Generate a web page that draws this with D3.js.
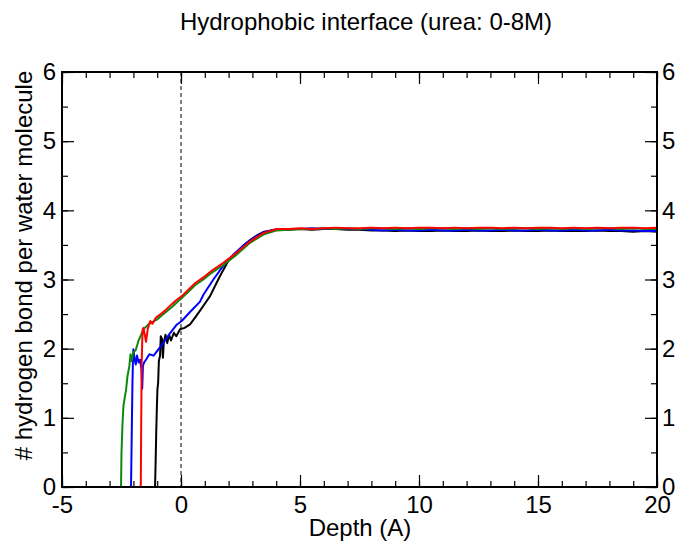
<!DOCTYPE html>
<html><head><meta charset="utf-8">
<script src="https://cdn.jsdelivr.net/npm/d3@7"></script>
<style>body{margin:0;background:#fff}svg{display:block}text{font-family:"Liberation Sans",Arial,sans-serif}</style>
</head><body>
<svg id="c" width="678" height="546"></svg>
<script>
// ---- data ----
const xTicks = [-5, 0, 5, 10, 15, 20];
const yTicks = [0, 1, 2, 3, 4, 5, 6];
const plateauDepth = [4.5,5,5.5,6,6.5,7,7.5,8,8.5,9,9.5,10,10.5,11,11.5,12,12.5,13,13.5,14,14.5,15,15.5,16,16.5,17,17.5,18,18.5,19,19.5,20];

const blackRise = [[-1.09,0],[-1.07,0.3],[-1.04,0.8],[-1.01,1.2],[-0.99,1.41],[-0.96,1.51],[-0.93,1.82],[-0.88,1.9],[-0.85,2.18],[-0.8,2.14],[-0.76,1.87],[-0.72,2.1],[-0.65,2.2],[-0.58,2.08],[-0.5,2.2],[-0.42,2.12],[-0.3,2.23],[-0.2,2.18],[-0.04,2.28],[0.15,2.3],[0.38,2.35],[0.59,2.45],[0.8,2.55],[1.0,2.65],[1.22,2.76],[1.45,2.92],[1.64,3.05],[1.99,3.27],[2.34,3.39],[2.62,3.49],[2.9,3.57],[3.2,3.64],[3.5,3.69],[3.8,3.71],[4.1,3.72]];
const blackPlateau = [3.72,3.73,3.72,3.73,3.73,3.72,3.72,3.71,3.71,3.70,3.71,3.70,3.70,3.71,3.70,3.70,3.71,3.70,3.70,3.71,3.70,3.70,3.71,3.70,3.70,3.70,3.71,3.70,3.70,3.69,3.70,3.69];

const blueRise = [[-2.1,0],[-2.08,0.5],[-2.06,1.0],[-2.04,1.5],[-2.02,1.8],[-2.0,1.99],[-1.95,1.85],[-1.9,1.77],[-1.85,1.9],[-1.78,1.8],[-1.72,1.84],[-1.66,1.7],[-1.63,1.42],[-1.6,1.75],[-1.55,1.8],[-1.45,1.85],[-1.33,1.92],[-1.15,1.9],[-0.95,1.99],[-0.73,2.09],[-0.45,2.23],[-0.17,2.35],[0.03,2.4],[0.38,2.53],[0.8,2.68],[0.94,2.78],[1.36,3.0],[1.78,3.2],[2.2,3.36],[2.62,3.49],[3.04,3.6],[3.46,3.68],[3.9,3.72],[4.3,3.73]];
const bluePlateau = [3.73,3.73,3.74,3.73,3.74,3.73,3.73,3.72,3.71,3.72,3.71,3.71,3.72,3.71,3.71,3.72,3.71,3.71,3.72,3.71,3.71,3.72,3.71,3.71,3.72,3.71,3.71,3.72,3.71,3.71,3.70,3.70];

const greenRise = [[-2.52,0],[-2.5,0.5],[-2.46,0.9],[-2.42,1.17],[-2.36,1.3],[-2.31,1.4],[-2.25,1.6],[-2.17,1.75],[-2.12,1.92],[-2.08,1.82],[-2.0,1.95],[-1.9,1.98],[-1.79,2.11],[-1.58,2.28],[-1.37,2.35],[-1.02,2.42],[-0.67,2.52],[-0.32,2.62],[-0.04,2.71],[0.3,2.82],[0.6,2.92],[0.94,3.0],[1.3,3.1],[1.78,3.21],[2.34,3.36],[2.9,3.53],[3.46,3.65],[4.02,3.71]];
const greenPlateau = [3.72,3.73,3.73,3.74,3.73,3.74,3.73,3.74,3.74,3.73,3.74,3.73,3.74,3.74,3.73,3.74,3.73,3.74,3.73,3.74,3.74,3.73,3.74,3.73,3.74,3.73,3.74,3.74,3.73,3.74,3.73,3.73];

const redRise = [[-1.69,0],[-1.68,0.5],[-1.67,1.0],[-1.66,1.41],[-1.65,1.8],[-1.63,2.1],[-1.61,2.28],[-1.58,2.3],[-1.52,2.2],[-1.47,2.1],[-1.4,2.28],[-1.29,2.4],[-1.2,2.36],[-1.05,2.45],[-0.85,2.5],[-0.67,2.55],[-0.4,2.64],[-0.2,2.7],[0.03,2.76],[0.3,2.85],[0.6,2.95],[0.94,3.03],[1.3,3.13],[1.78,3.24],[2.34,3.39],[2.9,3.55],[3.46,3.67],[4.02,3.73]];
const redPlateau = [3.73,3.74,3.73,3.74,3.75,3.74,3.74,3.75,3.74,3.75,3.74,3.75,3.75,3.74,3.75,3.74,3.75,3.75,3.74,3.75,3.74,3.75,3.75,3.74,3.75,3.74,3.75,3.74,3.75,3.75,3.74,3.75];

const seriesNames = ["black", "blue", "green", "red"];
const seriesColors = ["#000000", "#0000ff", "#0b8a0b", "#ff0000"];
const seriesRise = [blackRise, blueRise, greenRise, redRise];
const seriesPlateau = [blackPlateau, bluePlateau, greenPlateau, redPlateau];

const titleText = "Hydrophobic interface (urea: 0-8M)";
const xLabel = "Depth (A)";
const yLabel = "# hydrogen bond per water molecule";

// ---- layout ----
const L = 62, R = 657, T = 72, B = 487;
const svg = d3.select("#c");
const x = d3.scaleLinear().domain([-5, 20]).range([L, R]);
const y = d3.scaleLinear().domain([0, 6]).range([B, T]);

const fs = 24;
const ff = '"Liberation Sans", Arial, sans-serif';
const fmt = d => String(d);

svg.append("clipPath").attr("id","clip").append("rect")
  .attr("x", L).attr("y", T).attr("width", R-L).attr("height", B-T);

// dashed zero line
svg.append("line").attr("x1", x(0)).attr("x2", x(0)).attr("y1", T).attr("y2", B)
  .attr("stroke", "#000").attr("stroke-width", 1).attr("stroke-dasharray", "4,3");

// series
const line = d3.line().x(d => x(d[0])).y(d => y(d[1]));
const g = svg.append("g").attr("clip-path", "url(#clip)");
seriesNames.forEach((n, i) => {
  const pts = seriesRise[i].concat(plateauDepth.map((d, j) => [d, seriesPlateau[i][j]]));
  g.append("path").datum(pts).attr("d", line)
    .attr("fill", "none").attr("stroke", seriesColors[i]).attr("stroke-width", 2)
    .attr("stroke-linejoin", "round");
});

// axes (inward ticks)
const minorX = d3.range(-5, 20.01, 1);
const minorY = d3.range(0, 6.01, 0.5);
svg.append("g").attr("transform", `translate(0,${B})`)
  .call(d3.axisBottom(x).tickValues(minorX).tickSize(-6).tickFormat(""));
svg.append("g").attr("transform", `translate(0,${B})`)
  .call(d3.axisBottom(x).tickValues(xTicks).tickSize(-12).tickPadding(9).tickFormat(fmt));
svg.append("g").attr("transform", `translate(0,${T})`)
  .call(d3.axisTop(x).tickValues(minorX).tickSize(-6).tickFormat(""));
svg.append("g").attr("transform", `translate(0,${T})`)
  .call(d3.axisTop(x).tickValues(xTicks).tickSize(-12).tickFormat(""));
svg.append("g").attr("transform", `translate(${L},0)`)
  .call(d3.axisLeft(y).tickValues(minorY).tickSize(-6).tickFormat(""));
svg.append("g").attr("transform", `translate(${L},0)`)
  .call(d3.axisLeft(y).tickValues(yTicks).tickSize(-12).tickPadding(6).tickFormat(fmt));
svg.append("g").attr("transform", `translate(${R},0)`)
  .call(d3.axisRight(y).tickValues(minorY).tickSize(-6).tickFormat(""));
svg.append("g").attr("transform", `translate(${R},0)`)
  .call(d3.axisRight(y).tickValues(yTicks).tickSize(-12).tickPadding(5).tickFormat(fmt));

svg.selectAll(".domain").remove();
svg.selectAll(".tick line").attr("stroke", "#000").attr("stroke-width", 1.2);
svg.selectAll(".tick text").attr("font-size", fs).attr("fill", "#000").attr("font-family", ff);

// frame
svg.append("rect").attr("x", L).attr("y", T).attr("width", R-L).attr("height", B-T)
  .attr("fill", "none").attr("stroke", "#000").attr("stroke-width", 2);

// titles
svg.append("text").attr("x", 366).attr("y", 30).attr("text-anchor", "middle")
  .attr("font-size", 24).text(titleText);
svg.append("text").attr("x", 360).attr("y", 536).attr("text-anchor", "middle")
  .attr("font-size", 24).text(xLabel);
svg.append("text").attr("transform", `translate(32,${(T+B)/2-14}) rotate(-90)`)
  .attr("text-anchor", "middle").attr("font-size", 24).text(yLabel);
</script>
</body></html>
